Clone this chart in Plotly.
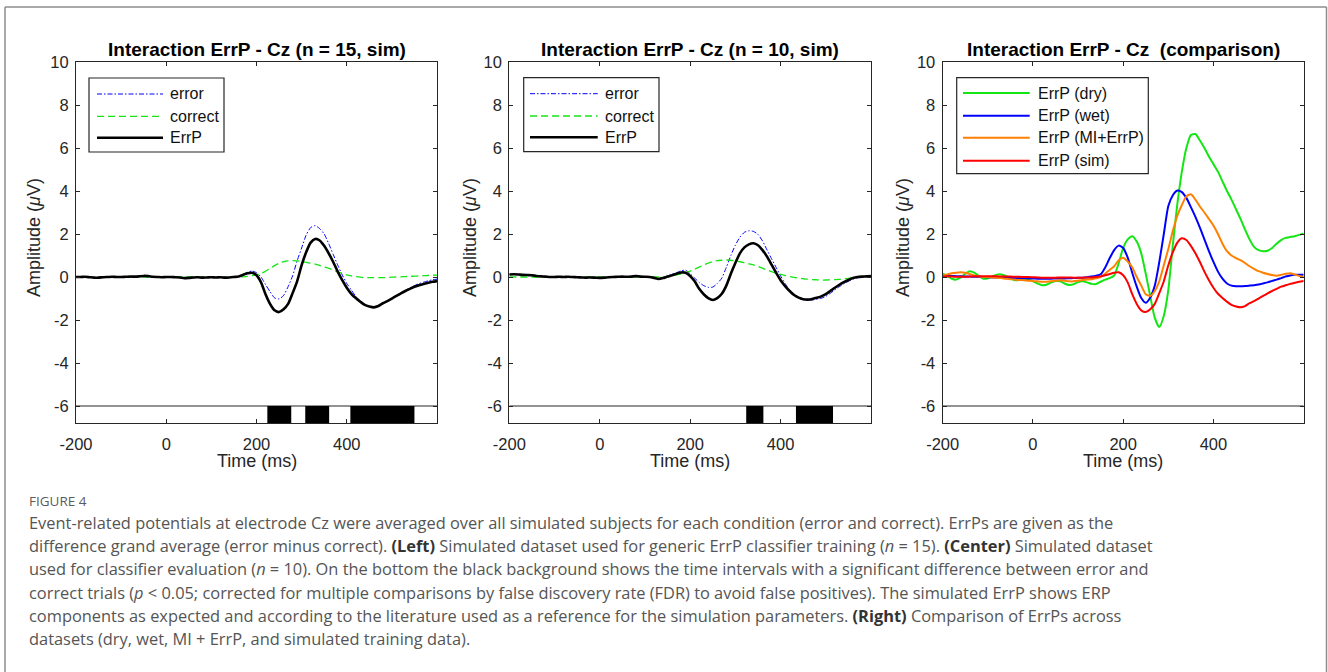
import plotly.graph_objects as go

# ---------------- data ----------------
TIME_MS = list(range(-200, 601, 10))

X_TICKS = [-200, 0, 200, 400]
X_TICK_LABELS = ["-200", "0", "200", "400"]
Y_TICKS = [-6, -4, -2, 0, 2, 4, 6, 8, 10]
Y_TICK_LABELS = ["-6", "-4", "-2", "0", "2", "4", "6", "8", "10"]

PANEL_TITLES = [
    "Interaction ErrP - Cz (n = 15, sim)",
    "Interaction ErrP - Cz (n = 10, sim)",
    "Interaction ErrP - Cz  (comparison)",
]

# Panel 1 (n = 15, sim)
p1_error = [
    0.0, 0.0, 0.01, -0.01, -0.03, -0.03, -0.01, 0.0, 0.01, 0.0,
    0.0, 0.01, 0.02, 0.02, 0.03, 0.05, 0.04, 0.01, 0.0, -0.01,
    0.0, 0.0, -0.01, -0.02, -0.05, -0.04, -0.02, -0.01, -0.03, -0.02,
    -0.01, -0.02, -0.01, -0.03, -0.02, 0.0, 0.03, 0.12, 0.22, 0.28,
    0.2, 0.0, -0.35, -0.68, -0.97, -1.02, -0.86, -0.45, 0.05, 0.75,
    1.35, 1.95, 2.3, 2.39, 2.25, 2.0, 1.55, 1.05, 0.55, 0.1,
    -0.3, -0.6, -0.9, -1.12, -1.28, -1.37, -1.41, -1.37, -1.24, -1.12,
    -0.98, -0.86, -0.73, -0.62, -0.5, -0.4, -0.31, -0.24, -0.18, -0.13,
    -0.1,
]
p1_correct = [
    0.0, 0.0, 0.0, 0.0, 0.0, 0.0, 0.0, 0.0, 0.0, 0.0,
    0.0, 0.0, 0.0, 0.0, 0.0, 0.0, 0.0, 0.0, 0.0, 0.0,
    0.0, 0.0, 0.0, 0.0, 0.0, 0.0, 0.0, 0.0, 0.0, 0.0,
    0.0, 0.0, 0.0, 0.0, 0.0, 0.0, 0.0, 0.01, 0.03, 0.06,
    0.1, 0.16, 0.27, 0.4, 0.53, 0.64, 0.71, 0.75, 0.76, 0.75,
    0.72, 0.68, 0.64, 0.6, 0.54, 0.47, 0.4, 0.32, 0.24, 0.17,
    0.1, 0.05, 0.02, -0.01, -0.03, -0.03, -0.03, -0.03, -0.03, -0.02,
    -0.01, 0.0, 0.01, 0.02, 0.03, 0.04, 0.05, 0.06, 0.07, 0.08,
    0.09,
]
p1_errp = [
    0.0, 0.0, 0.01, -0.01, -0.03, -0.03, -0.01, 0.0, 0.01, 0.0,
    0.0, 0.01, 0.02, 0.02, 0.03, 0.05, 0.04, 0.01, 0.0, -0.01,
    0.0, 0.0, -0.01, -0.02, -0.05, -0.04, -0.02, -0.01, -0.03, -0.02,
    -0.01, -0.02, -0.01, -0.03, -0.02, 0.0, 0.02, 0.1, 0.17, 0.2,
    0.08, -0.25, -0.8, -1.25, -1.55, -1.63, -1.5, -1.25, -0.75, -0.2,
    0.55, 1.15, 1.6, 1.77, 1.7, 1.45, 1.1, 0.7, 0.25, -0.15,
    -0.5, -0.78, -0.98, -1.15, -1.3, -1.37, -1.41, -1.35, -1.22, -1.12,
    -1.0, -0.88, -0.76, -0.65, -0.55, -0.45, -0.38, -0.32, -0.27, -0.22,
    -0.19,
]
p1_sig_start = [224, 308, 408]
p1_sig_end = [277, 361, 550]

# Panel 2 (n = 10, sim)
p2_error = [
    0.12, 0.13, 0.12, 0.1, 0.09, 0.08, 0.05, 0.03, 0.02, 0.0,
    0.0, 0.01, 0.0, 0.01, 0.0, -0.01, -0.02, -0.03, -0.02, -0.03,
    -0.04, -0.03, -0.01, 0.0, 0.01, 0.02, 0.01, 0.02, 0.04, 0.02,
    0.01, 0.0, -0.04, -0.09, -0.05, 0.05, 0.13, 0.2, 0.29, 0.32,
    0.15, -0.05, -0.25, -0.4, -0.48, -0.47, -0.3, -0.05, 0.45, 1.0,
    1.48, 1.85, 2.08, 2.15, 2.12, 1.98, 1.68, 1.26, 0.85, 0.45,
    0.05, -0.3, -0.62, -0.85, -0.98, -1.05, -1.08, -1.07, -1.04, -0.99,
    -0.9, -0.76, -0.6, -0.45, -0.32, -0.2, -0.1, -0.04, 0.0, 0.02,
    0.04,
]
p2_correct = [
    0.0, 0.0, 0.0, 0.0, 0.0, 0.0, 0.0, 0.0, 0.0, 0.0,
    0.0, 0.0, 0.0, 0.0, 0.0, 0.0, 0.0, 0.0, 0.0, 0.0,
    0.0, 0.0, 0.0, 0.0, 0.0, 0.0, 0.0, 0.0, 0.0, 0.0,
    0.0, 0.0, 0.0, 0.0, 0.01, 0.03, 0.06, 0.1, 0.14, 0.2,
    0.27, 0.36, 0.46, 0.56, 0.65, 0.72, 0.76, 0.78, 0.79, 0.78,
    0.75, 0.71, 0.66, 0.61, 0.56, 0.49, 0.41, 0.33, 0.25, 0.18,
    0.12, 0.07, 0.02, -0.02, -0.05, -0.08, -0.1, -0.12, -0.13, -0.14,
    -0.14, -0.13, -0.12, -0.11, -0.09, -0.06, -0.03, -0.01, 0.0, 0.0,
    0.0,
]
p2_errp = [
    0.12, 0.13, 0.12, 0.1, 0.09, 0.08, 0.05, 0.03, 0.02, 0.0,
    0.0, 0.01, 0.0, 0.01, 0.0, -0.01, -0.02, -0.03, -0.02, -0.03,
    -0.04, -0.03, -0.01, 0.0, 0.01, 0.02, 0.01, 0.02, 0.04, 0.02,
    0.01, 0.0, -0.04, -0.09, -0.05, 0.02, 0.08, 0.15, 0.21, 0.2,
    0.05, -0.2, -0.55, -0.8, -0.98, -1.07, -0.98, -0.78, -0.4, 0.15,
    0.65, 1.1, 1.38, 1.52, 1.57, 1.48, 1.25, 0.95, 0.58, 0.2,
    -0.15, -0.42, -0.65, -0.84, -0.96, -1.03, -1.05, -1.02, -0.97, -0.9,
    -0.8, -0.65, -0.5, -0.36, -0.24, -0.14, -0.05, 0.0, 0.02, 0.03,
    0.05,
]
p2_sig_start = [324, 434]
p2_sig_end = [362, 516]

# Panel 3 (comparison)
p3_dry = [
    0.15, 0.05, -0.08, -0.12, -0.02, 0.15, 0.27, 0.2, 0.05, -0.08,
    -0.06, 0.03, 0.11, 0.12, 0.05, -0.06, -0.15, -0.14, -0.1, -0.12,
    -0.2, -0.3, -0.38, -0.36, -0.26, -0.19, -0.2, -0.3, -0.37, -0.34,
    -0.24, -0.2, -0.25, -0.32, -0.33, -0.22, -0.12, -0.05, 0.07, 0.65,
    1.35, 1.75, 1.9, 1.65, 1.1, 0.15, -0.9, -1.9, -2.33, -1.8,
    -0.6, 1.5, 3.4, 4.9, 6.0, 6.6, 6.65, 6.35, 6.0, 5.6,
    5.25, 4.9, 4.45, 4.0, 3.6, 3.15, 2.7, 2.2, 1.75, 1.4,
    1.25, 1.2, 1.22, 1.35, 1.55, 1.72, 1.82, 1.86, 1.9, 1.96,
    2.03,
]
p3_wet = [
    0.05, 0.06, 0.05, 0.04, 0.03, 0.02, 0.02, 0.01, 0.0, 0.0,
    -0.01, -0.02, -0.02, -0.03, -0.03, -0.04, -0.05, -0.06, -0.06, -0.07,
    -0.07, -0.08, -0.08, -0.08, -0.08, -0.07, -0.07, -0.07, -0.06, -0.05,
    -0.04, -0.03, -0.01, 0.02, 0.06, 0.12, 0.44, 0.87, 1.25, 1.46,
    1.35, 0.9, 0.2, -0.45, -0.98, -1.2, -0.95, -0.4, 0.7, 2.0,
    3.3, 3.8, 4.02, 3.95, 3.68, 3.25, 2.8, 2.3, 1.75, 1.2,
    0.7, 0.25, -0.08, -0.3, -0.4, -0.43, -0.43, -0.42, -0.4, -0.38,
    -0.35, -0.3, -0.25, -0.18, -0.12, -0.05, 0.02, 0.07, 0.1, 0.1,
    0.1,
]
p3_mi = [
    0.08, 0.12, 0.17, 0.2, 0.22, 0.2, 0.14, 0.07, 0.02, 0.0,
    0.0, -0.02, -0.03, -0.05, -0.08, -0.1, -0.12, -0.14, -0.15, -0.17,
    -0.18, -0.2, -0.22, -0.22, -0.2, -0.17, -0.15, -0.17, -0.2, -0.2,
    -0.17, -0.14, -0.12, -0.1, -0.06, 0.0, 0.15, 0.33, 0.5, 0.78,
    0.9, 0.72, 0.45, 0.0, -0.4, -0.8, -0.88, -0.65, -0.2, 0.55,
    1.3, 2.15, 2.85, 3.35, 3.75, 3.85, 3.6, 3.28, 3.0, 2.7,
    2.4, 2.0, 1.55, 1.2, 1.0, 0.88, 0.78, 0.65, 0.5, 0.38,
    0.27, 0.2, 0.14, 0.09, 0.06, 0.1, 0.15, 0.18, 0.12, 0.05,
    0.0,
]
p3_sim = [
    0.02, 0.02, 0.02, 0.01, 0.01, 0.01, 0.02, 0.03, 0.03, 0.03,
    0.03, 0.03, 0.03, 0.02, 0.02, 0.02, 0.01, 0.01, 0.0, 0.0,
    -0.01, -0.02, -0.03, -0.03, -0.03, -0.03, -0.02, -0.02, -0.02, -0.03,
    -0.03, -0.03, -0.02, -0.02, 0.0, 0.03, 0.08, 0.14, 0.2, 0.22,
    0.08, -0.25, -0.8, -1.25, -1.55, -1.63, -1.5, -1.25, -0.75, -0.2,
    0.55, 1.15, 1.6, 1.8, 1.72, 1.45, 1.1, 0.7, 0.25, -0.15,
    -0.5, -0.78, -0.98, -1.15, -1.3, -1.37, -1.41, -1.35, -1.22, -1.12,
    -1.0, -0.88, -0.76, -0.65, -0.55, -0.45, -0.38, -0.32, -0.27, -0.22,
    -0.19,
]

CAPTION_LINES = [
    "Event-related potentials at electrode Cz were averaged over all simulated subjects for each condition (error and correct). ErrPs are given as the",
    "difference grand average (error minus correct). <b>(Left)</b> Simulated dataset used for generic ErrP classifier training (<i>n</i> = 15). <b>(Center)</b> Simulated dataset",
    "used for classifier evaluation (<i>n</i> = 10). On the bottom the black background shows the time intervals with a significant difference between error and",
    "correct trials (<i>p</i> &lt; 0.05; corrected for multiple comparisons by false discovery rate (FDR) to avoid false positives). The simulated ErrP shows ERP",
    "components as expected and according to the literature used as a reference for the simulation parameters. <b>(Right)</b> Comparison of ErrPs across",
    "datasets (dry, wet, MI + ErrP, and simulated training data).",
]

# ---------------- styling / layout helpers ----------------
W, H = 1328, 672
FONT = "Liberation Sans, Arial, Helvetica, sans-serif"
CAP_FONT = "Open Sans, Lato, sans-serif"
AX = "#262626"
Y_MIN, Y_MAX = -6.79, 10
SIG_LEVEL = -6

GREEN = "#14e614"
BLUE = "#0000ff"
ORANGE = "#ff8000"
RED = "#ff0000"

def fx(p):
    return p / W

def fy(p):
    return 1 - p / H

PLOT_X = [(76, 437), (509.3, 871), (942.7, 1303.7)]
PLOT_TOP, PLOT_BOTTOM = 62, 423

fig = go.Figure()

STYLE_ERROR = dict(color=BLUE, width=1, dash="5px,2px,1.5px,2px")
STYLE_CORRECT = dict(color=GREEN, width=1.3, dash="7px,4px")
STYLE_ERRP = dict(color="black", width=2.6)

series = [
    (1, "error", p1_error, STYLE_ERROR),
    (1, "correct", p1_correct, STYLE_CORRECT),
    (1, "ErrP", p1_errp, STYLE_ERRP),
    (2, "error", p2_error, STYLE_ERROR),
    (2, "correct", p2_correct, STYLE_CORRECT),
    (2, "ErrP", p2_errp, STYLE_ERRP),
    (3, "ErrP (dry)", p3_dry, dict(color=GREEN, width=2)),
    (3, "ErrP (wet)", p3_wet, dict(color=BLUE, width=2)),
    (3, "ErrP (MI+ErrP)", p3_mi, dict(color=ORANGE, width=2)),
    (3, "ErrP (sim)", p3_sim, dict(color=RED, width=2)),
]

for panel, name, vals, style in series:
    suffix = "" if panel == 1 else str(panel)
    fig.add_trace(go.Scatter(
        x=TIME_MS, y=vals, mode="lines", name=name,
        line=dict(shape="spline", smoothing=0.6, **style),
        xaxis="x" + suffix, yaxis="y" + suffix,
        showlegend=False, hoverinfo="skip",
    ))

shapes = []
annotations = []

# significance bands
for panel, starts, ends in [(1, p1_sig_start, p1_sig_end), (2, p2_sig_start, p2_sig_end), (3, [], [])]:
    suffix = "" if panel == 1 else str(panel)
    shapes.append(dict(type="line", xref="x" + suffix, yref="y" + suffix,
                       x0=TIME_MS[0], x1=TIME_MS[-1], y0=SIG_LEVEL, y1=SIG_LEVEL,
                       line=dict(color=AX, width=1.2)))
    for s, e in zip(starts, ends):
        shapes.append(dict(type="rect", xref="x" + suffix, yref="y" + suffix,
                           x0=s, x1=e, y0=Y_MIN, y1=SIG_LEVEL,
                           fillcolor="black", line=dict(width=0)))

# axes
layout_axes = {}
for i, (l, r) in enumerate(PLOT_X):
    suffix = "" if i == 0 else str(i + 1)
    layout_axes["xaxis" + suffix] = dict(
        domain=[fx(l), fx(r)], anchor="y" + suffix, range=[-200, 600],
        tickvals=X_TICKS, ticktext=X_TICK_LABELS, ticks="inside", ticklen=4, tickcolor=AX,
        showline=True, linecolor=AX, linewidth=1.2, mirror="ticks",
        showgrid=False, zeroline=False, ticklabelstandoff=6,
        tickfont=dict(family=FONT, size=16.5, color=AX),
    )
    layout_axes["yaxis" + suffix] = dict(
        domain=[fy(PLOT_BOTTOM), fy(PLOT_TOP)], anchor="x" + suffix,
        range=[Y_MIN, Y_MAX], tickvals=Y_TICKS, ticktext=Y_TICK_LABELS,
        ticks="inside", ticklen=4,
        tickcolor=AX, showline=True, linecolor=AX, linewidth=1.2,
        mirror="ticks", showgrid=False, zeroline=False, ticklabelstandoff=3,
        tickfont=dict(family=FONT, size=16.5, color=AX),
    )
    cx = (l + r) / 2
    annotations.append(dict(text="<b>" + PANEL_TITLES[i] + "</b>", x=fx(cx), y=fy(50),
                            xref="paper", yref="paper", showarrow=False,
                            xanchor="center", yanchor="middle",
                            font=dict(family=FONT, size=19, color="black")))
    annotations.append(dict(text="Time (ms)", x=fx(cx), y=fy(461),
                            xref="paper", yref="paper", showarrow=False,
                            xanchor="center", yanchor="middle",
                            font=dict(family=FONT, size=18, color=AX)))

for xc in [34, 470, 903]:
    annotations.append(dict(text="Amplitude (<i>μ</i>V)", x=fx(xc), y=fy(238),
                            xref="paper", yref="paper", showarrow=False, textangle=-90,
                            xanchor="center", yanchor="middle",
                            font=dict(family=FONT, size=18, color=AX)))

# manual legends (MATLAB-style boxes)
legends = [
    dict(box=(89, 224, 78, 152), line_x=(97, 163), text_x=168,
         rows=[(94, "error", STYLE_ERROR), (116.3, "correct", STYLE_CORRECT), (137.7, "ErrP", STYLE_ERRP)]),
    dict(box=(523.7, 659, 77.7, 151.7), line_x=(530, 597.7), text_x=603,
         rows=[(93.7, "error", STYLE_ERROR), (116, "correct", STYLE_CORRECT), (137.3, "ErrP", STYLE_ERRP)]),
    dict(box=(956.7, 1148.3, 77.7, 173.7), line_x=(963, 1029.7), text_x=1035.7,
         rows=[(93, "ErrP (dry)", dict(color=GREEN, width=2)),
               (115.7, "ErrP (wet)", dict(color=BLUE, width=2)),
               (137.7, "ErrP (MI+ErrP)", dict(color=ORANGE, width=2)),
               (160.7, "ErrP (sim)", dict(color=RED, width=2))]),
]
for lg in legends:
    x0, x1, y0, y1 = lg["box"]
    shapes.append(dict(type="rect", xref="paper", yref="paper",
                       x0=fx(x0), x1=fx(x1), y0=fy(y1), y1=fy(y0),
                       fillcolor="white", line=dict(color=AX, width=1.2)))
    for yy, label, st in lg["rows"]:
        shapes.append(dict(type="line", xref="paper", yref="paper",
                           x0=fx(lg["line_x"][0]), x1=fx(lg["line_x"][1]),
                           y0=fy(yy), y1=fy(yy), line=st))
        annotations.append(dict(text=label, x=fx(lg["text_x"]), y=fy(yy),
                                xref="paper", yref="paper", showarrow=False,
                                xanchor="left", yanchor="middle",
                                font=dict(family=FONT, size=16, color="#111111")))

# outer card frame
FRAME = dict(color="#8c8c8c", width=1.5)
shapes += [
    dict(type="line", xref="paper", yref="paper", x0=fx(5), x1=fx(5), y0=0, y1=fy(7), line=FRAME),
    dict(type="line", xref="paper", yref="paper", x0=fx(5), x1=fx(1326.5), y0=fy(7), y1=fy(7), line=FRAME),
    dict(type="line", xref="paper", yref="paper", x0=fx(1326.5), x1=fx(1326.5), y0=0, y1=fy(7), line=FRAME),
]

# caption
annotations.append(dict(text="FIGURE 4", x=fx(28), y=fy(501), xref="paper", yref="paper",
                        showarrow=False, xanchor="left", yanchor="middle", borderpad=0,
                        font=dict(family=CAP_FONT, size=13.5, color="#5c5c5c")))
cap_y = [522, 545.3, 568.6, 592, 615.4, 638.8]
for yy, line in zip(cap_y, CAPTION_LINES):
    line = line.replace("<b>", "<b><span style='color:#333333'>").replace("</b>", "</span></b>")
    annotations.append(dict(text=line, x=fx(28), y=fy(yy), xref="paper", yref="paper",
                            showarrow=False, xanchor="left", yanchor="middle", borderpad=0,
                            font=dict(family=CAP_FONT, size=16.4, color="#555555")))

fig.update_layout(
    width=W, height=H, margin=dict(l=0, r=0, t=0, b=0, autoexpand=False),
    autosize=False,
    paper_bgcolor="white", plot_bgcolor="white",
    showlegend=False, shapes=shapes, annotations=annotations,
    hovermode=False, **layout_axes,
)

fig.write_html(
    "out.html",
    config={"displayModeBar": False, "responsive": False},
    post_script="document.body.style.margin='0';document.body.style.overflow='hidden';",
)
